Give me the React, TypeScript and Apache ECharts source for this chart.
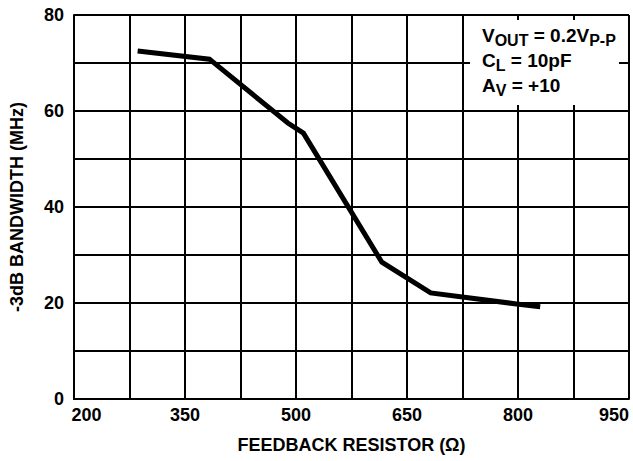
import React, { useEffect, useRef } from "react";
import * as echarts from "echarts";

const resistance = [286, 383, 489, 510, 616, 682, 798, 830];
const bandwidth = [72.5, 70.8, 57.5, 55.4, 28.5, 22.1, 19.8, 19.2];
const xTicks = [200, 350, 500, 650, 800, 950];
const yTicks = [0, 20, 40, 60, 80];

const FONT = "'Liberation Sans', Arial, Helvetica, sans-serif";

export default function App() {
  const ref = useRef<HTMLDivElement>(null);
  useEffect(() => {
    if (!ref.current) return;
    const chart = echarts.init(ref.current, undefined, { renderer: "svg" });
    const main = { fontSize: 19, fontWeight: "bold", fontFamily: FONT, color: "#000", lineHeight: 25 };
    const sub = { fontSize: 16, fontWeight: "bold", fontFamily: FONT, color: "#000", lineHeight: 16, verticalAlign: "bottom" };
    const tick = { fontSize: 18, fontWeight: "bold", fontFamily: FONT, color: "#000" };
    chart.setOption({
      animation: false,
      backgroundColor: "#fff",
      grid: { left: 72, right: 4, top: 15, bottom: 62, containLabel: false },
      xAxis: {
        type: "value",
        min: 200,
        max: 950,
        interval: 75,
        name: "FEEDBACK RESISTOR (Ω)",
        nameLocation: "middle",
        nameGap: 37,
        nameTextStyle: { fontSize: 18, fontWeight: "bold", fontFamily: FONT, color: "#000" },
        axisLine: { show: true, lineStyle: { color: "#000", width: 2 } },
        axisTick: { show: false },
        splitLine: { show: true, lineStyle: { color: "#000", width: 2 } },
        axisLabel: {
          ...tick,
          margin: 7,
          alignMaxLabel: "right",
          rich: { first: { ...tick, padding: [0, 0, 0, 25] } },
          formatter: (v: number) =>
            v === xTicks[0] ? `{first|${v}}` : xTicks.includes(v) ? String(v) : "",
        },
      },
      yAxis: {
        type: "value",
        min: 0,
        max: 80,
        interval: 10,
        name: "-3dB BANDWIDTH (MHz)",
        nameLocation: "middle",
        nameGap: 48,
        nameTextStyle: { fontSize: 18, fontWeight: "bold", fontFamily: FONT, color: "#000" },
        axisLine: { show: true, lineStyle: { color: "#000", width: 2 } },
        axisTick: { show: false },
        splitLine: { show: true, lineStyle: { color: "#000", width: 2 } },
        axisLabel: {
          ...tick,
          margin: 10,
          formatter: (v: number) => (yTicks.includes(v) ? String(v) : ""),
        },
      },
      series: [
        {
          type: "line",
          data: resistance.map((r, i) => [r, bandwidth[i]]),
          showSymbol: false,
          symbol: "none",
          lineStyle: { color: "#000", width: 5, join: "miter" },
          z: 5,
        },
      ],
      graphic: [
        {
          type: "rect",
          shape: { x: 470, y: 20, width: 149, height: 85 },
          style: { fill: "#fff" },
          z: 10,
        },
        {
          type: "text",
          x: 482,
          y: 23,
          z: 11,
          style: {
            text: "{m|V}{s|OUT}{m| = 0.2V}{s|P-P}\n{m|C}{s|L}{m| = 10pF}\n{m|A}{s|V}{m| = +10}",
            rich: { m: main, s: sub },
            fill: "#000",
          },
        },
      ],
    });
    return () => chart.dispose();
  }, []);
  return <div ref={ref} style={{ position: "fixed", left: 0, top: 0, width: 633, height: 461 }} />;
}
